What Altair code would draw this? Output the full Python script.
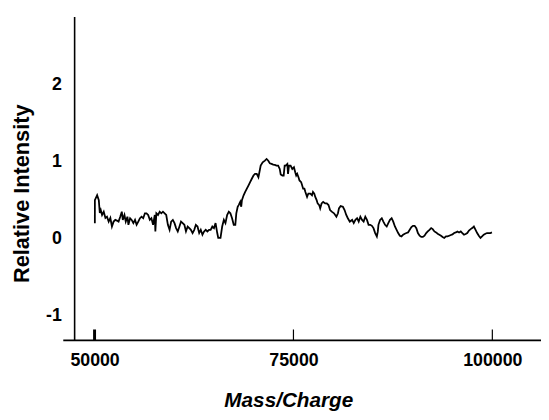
import altair as alt
import pandas as pd

# m/z values
mz = [
    50037, 50040, 50323, 50534, 50658, 50782, 50943, 51154, 51365, 51563,
    51774, 51985, 52184, 52395, 52606, 52804, 53015, 53226, 53424, 53548,
    53759, 53921, 54131, 54256, 54467, 54665, 54876, 55087, 55285, 55496,
    55707, 55906, 56117, 56328, 56526, 56737, 56948, 57146, 57357, 57568,
    57643, 57767,
    57978, 58189, 58387, 58598, 58809, 59008, 59218, 59429, 59628, 59839,
    60050, 60248, 60459, 60670, 60868, 61079, 61290, 61489, 61700, 61911,
    62109, 62320, 62531, 62730, 62941, 63151, 63350, 63561, 63772, 63970,
    64181, 64392, 64591, 64801, 65012, 65211, 65422, 65546, 65831,
    66042, 66253, 66452, 66663, 66874, 67072, 67283, 67494, 67693, 67817,
    67990, 68114, 68313, 68437, 68524, 68735, 68933, 69144, 69355, 69554,
    69765, 69975, 70174, 70385, 70596, 70720, 70881, 71129, 71415, 71626,
    71837, 72035, 72246, 72457, 72656, 72867, 73077, 73276, 73400, 73611,
    73772, 73896,
    74020, 74231, 74318, 74442, 74641, 74852, 75063, 75224, 75348, 75472,
    75633, 75757, 75968, 76092, 76216, 76378, 76502, 76713, 76874, 77122,
    77333, 77457, 77618, 77742, 77916, 78040, 78238, 78362, 78536, 78734,
    78983, 79194, 79405, 79603, 79814, 80100, 80397, 80596, 80720, 80931,
    81216, 81427, 81638, 81837, 82085,
    82382, 82580, 82791, 83002, 83201, 83412, 83623, 83821, 84032, 84243,
    84442, 84653, 84864, 85062, 85273, 85484, 85608, 85683, 85894, 86104,
    86303, 86514, 86725, 86923, 87134, 87345, 87544, 87755, 87966, 88164,
    88375, 88586, 88785, 88996, 89206, 89405, 89616, 89827, 90025, 90236,
    90447, 90646, 90857, 91068, 91266, 91477, 91688, 91887, 92098, 92309,
    92507, 92718, 92929, 93127, 93338, 93549, 93748, 93959, 94170, 94368,
    94579, 94790, 94989, 95200, 95411, 95609, 95820, 96031, 96230, 96441,
    96651, 96850, 97061, 97272, 97470, 97681, 97892, 98091, 98302, 98512,
    98711, 98922, 99133, 99331, 99542, 99753, 99951,
]

intensity = [
    0.201, 0.500, 0.564, 0.500, 0.333, 0.371, 0.307, 0.350, 0.268, 0.285,
    0.221, 0.268, 0.157, 0.221, 0.243, 0.234, 0.221, 0.285, 0.350, 0.243,
    0.307, 0.221, 0.285, 0.179, 0.265, 0.243, 0.201, 0.243, 0.179, 0.221,
    0.265, 0.285, 0.265, 0.329, 0.329, 0.307, 0.243, 0.265, 0.179, 0.307,
    0.093, 0.329,
    0.307, 0.350, 0.329, 0.350, 0.329, 0.307, 0.179, 0.114, 0.221, 0.243,
    0.201, 0.136, 0.093, 0.157, 0.221, 0.201, 0.179, 0.093, 0.157, 0.136,
    0.114, 0.072, 0.114, 0.179, 0.157, 0.072, 0.114, 0.050, 0.093, 0.114,
    0.093, 0.114, 0.114, 0.157, 0.136, 0.201, 0.072, 0.008, 0.008,
    0.157, 0.243, 0.201, 0.307, 0.350, 0.329, 0.265, 0.179, 0.179, 0.329,
    0.414, 0.436, 0.478, 0.414, 0.500, 0.564, 0.607, 0.650, 0.693, 0.735,
    0.779, 0.821, 0.843, 0.843, 0.799, 0.864, 0.950, 0.992, 1.014, 1.036,
    1.014, 0.979, 0.972, 0.963, 0.959, 0.950, 0.950, 0.907, 0.834, 0.821,
    0.821, 0.950,
    0.950, 0.972, 0.843, 0.950, 0.950, 0.907, 0.928, 0.864, 0.821, 0.843,
    0.799, 0.757, 0.735, 0.693, 0.650, 0.650, 0.607, 0.542, 0.586, 0.586,
    0.564, 0.607, 0.586, 0.542, 0.500, 0.458, 0.436, 0.393, 0.458, 0.478,
    0.458, 0.458, 0.436, 0.371, 0.350, 0.329, 0.285, 0.329, 0.393, 0.423,
    0.414, 0.371, 0.307, 0.265, 0.221,
    0.243, 0.201, 0.243, 0.265, 0.221, 0.285, 0.243, 0.221, 0.285, 0.243,
    0.179, 0.179, 0.166, 0.136, 0.072, 0.028, 0.093, 0.179, 0.243, 0.265,
    0.221, 0.179, 0.157, 0.201, 0.243, 0.265, 0.221, 0.157, 0.114, 0.072,
    0.037, 0.028, 0.050, 0.063, 0.072, 0.080, 0.114, 0.149, 0.166, 0.166,
    0.136, 0.072, 0.037, 0.021, 0.021, 0.037, 0.072, 0.093, 0.114, 0.136,
    0.123, 0.093, 0.080, 0.063, 0.050, 0.037, 0.021, 0.008, 0.028, 0.028,
    0.037, 0.046, 0.054, 0.072, 0.080, 0.093, 0.080, 0.093, 0.072, 0.050,
    0.059, 0.072, 0.105, 0.123, 0.136, 0.157, 0.114, 0.072, 0.037, 0.008,
    0.028, 0.050, 0.063, 0.072, 0.072, 0.072, 0.080,
]

x_ticks = [50000, 75000, 100000]
y_ticks = [-1, 0, 1, 2]
x_domain = [47432, 106117]
y_domain = [-1.325, 2.89]

assert len(mz) == len(intensity)

FONT = "Liberation Sans"
W, H = 473, 328

df = pd.DataFrame({"mz": mz, "intensity": intensity})
ticks_df = pd.DataFrame({"mz": x_ticks})

xscale = alt.Scale(domain=x_domain, nice=False, zero=False)
yscale = alt.Scale(domain=y_domain, nice=False, zero=False)

x_axis = alt.Axis(
    values=x_ticks,
    labelExpr="'' + datum.value",
    title="Mass/Charge",
    domain=False,
    ticks=False,
    tickSize=0,
    grid=False,
    labelFont=FONT,
    labelFontWeight="bold",
    labelFontSize=18,
    labelColor="black",
    labelPadding=11,
    titleFont=FONT,
    titleFontWeight="bold",
    titleFontStyle="italic",
    titleFontSize=21,
    titleColor="black",
    titleX=217,
    titleY=67,
    titleBaseline="alphabetic",
    titleAlign="center",
)

y_axis = alt.Axis(
    values=y_ticks,
    labelExpr="'' + datum.value",
    title="Relative Intensity",
    domain=True,
    domainColor="black",
    domainWidth=1.6,
    ticks=False,
    tickSize=0,
    grid=False,
    labelFont=FONT,
    labelFontWeight="bold",
    labelFontSize=18,
    labelColor="black",
    labelPadding=13,
    titleFont=FONT,
    titleFontWeight="bold",
    titleFontSize=22,
    titleColor="black",
    titleAngle=270,
    titleX=-53,
    titleY=179,
    titleAlign="center",
    titleBaseline="middle",
)

line = alt.Chart(df).mark_line(color="black", strokeWidth=1.8).encode(
    x=alt.X("mz:Q", scale=xscale, axis=x_axis),
    y=alt.Y("intensity:Q", scale=yscale, axis=y_axis),
)

tick_marks = alt.Chart(ticks_df).mark_rule(color="black").encode(
    x=alt.X("mz:Q", scale=xscale, axis=x_axis),
    y=alt.value(H - 11),
    y2=alt.value(H),
    strokeWidth=alt.condition(alt.datum.mz == 50000, alt.value(3), alt.value(1.2)),
)

x_axis_line = alt.Chart(pd.DataFrame({"a": [0]})).mark_rule(
    color="black", strokeWidth=1.6
).encode(
    x=alt.value(-11),
    x2=alt.value(W),
    y=alt.value(H),
)

chart = (
    alt.layer(line, tick_marks, x_axis_line)
    .properties(
        width=W,
        height=H,
        autosize=alt.AutoSizeParams(type="none"),
        padding={"left": 67, "top": 6, "right": 0, "bottom": 78},
        background="white",
    )
    .configure_view(stroke=None)
)

chart.save("out.html", embed_options={"renderer": "svg", "actions": False})
